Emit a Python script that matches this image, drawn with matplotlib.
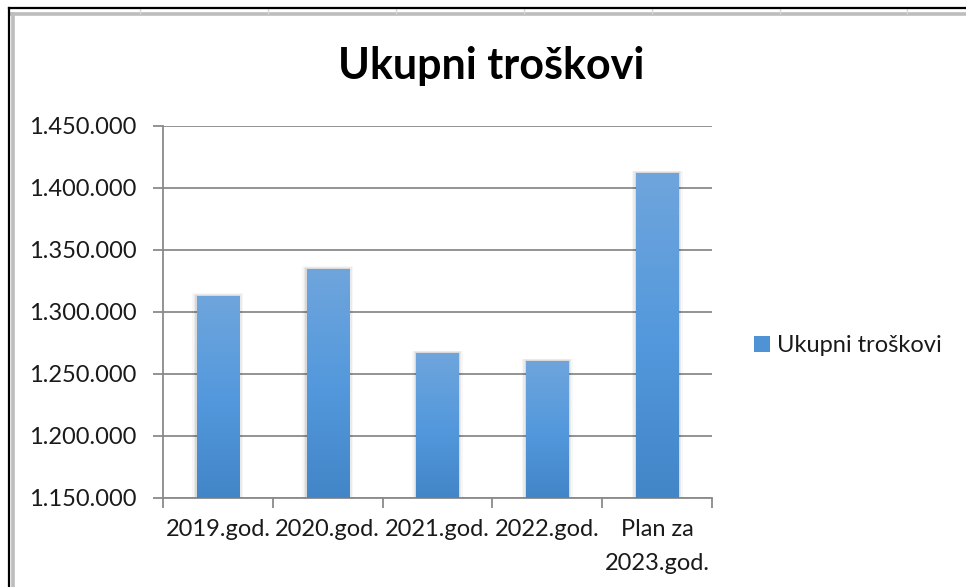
import matplotlib
matplotlib.use("Agg")
import matplotlib.pyplot as plt
import numpy as np
from matplotlib.colors import LinearSegmentedColormap
from matplotlib.lines import Line2D
from matplotlib.patches import Patch, Rectangle
from matplotlib.ticker import FuncFormatter, MultipleLocator

CATEGORIES = ["2019.god.", "2020.god.", "2021.god.", "2022.god.", "Plan za\n2023.god."]
TOTAL_COSTS = [1313000, 1334700, 1266900, 1260500, 1412100]
SERIES_NAME = "Ukupni troškovi"
TITLE = "Ukupni troškovi"

W, H = 966, 587
BAR_CMAP = LinearSegmentedColormap.from_list(
    "excel_blue", ["#4286c8", "#5499dd", "#6fa5dc"]
)
GRID = "#8a8a8a"
TEXT = "#1a1a1a"
LABEL_SIZE = 17

plt.rcParams["font.family"] = ["Lato", "DejaVu Sans"]

fig = plt.figure(figsize=(W / 100, H / 100), dpi=100)
ax = fig.add_axes([163 / W, 1 - 498 / H, (712 - 163) / W, (498 - 126) / H])

x = np.arange(len(CATEGORIES))
width = 0.385
bars = ax.bar(x, TOTAL_COSTS, width=width, color="none", edgecolor="none",
              zorder=3)

ymin, ymax = 1150000, 1450000

# gradient fill and soft shadow for every bar
grad = np.linspace(0, 1, 256).reshape(-1, 1)
for bar in bars:
    x0 = bar.get_x()
    x1 = x0 + bar.get_width()
    top = bar.get_height()
    for k, a in ((0.08, 0.03), (0.05, 0.05), (0.025, 0.07)):
        ax.add_patch(Rectangle((x0 - k * 0.5, ymin), (x1 - x0) + k,
                               top - ymin + k * 25000,
                               facecolor="#000000", alpha=a, edgecolor="none",
                               zorder=2.5))
    im = ax.imshow(grad, cmap=BAR_CMAP, aspect="auto", origin="lower",
                   extent=(x0, x1, ymin, top), zorder=3, interpolation="bilinear")
    clip = Rectangle((x0, ymin), x1 - x0, top - ymin, transform=ax.transData)
    im.set_clip_path(clip)
ax.set_xlim(-0.5, len(CATEGORIES) - 0.5)
ax.set_ylim(ymin, ymax)

ax.yaxis.set_major_locator(MultipleLocator(50000))
ax.yaxis.set_major_formatter(
    FuncFormatter(lambda v, _: f"{int(round(v)):,}".replace(",", "."))
)
ax.grid(axis="y", color=GRID, linewidth=1.3, zorder=1)
ax.set_axisbelow(True)

ax.set_xticks(x)
ax.set_xticklabels(CATEGORIES, linespacing=1.75)
ax.set_xticks(np.arange(-0.5, len(CATEGORIES)), minor=True)
ax.tick_params(axis="x", which="major", length=0, pad=15,
               labelsize=LABEL_SIZE, labelcolor=TEXT)
ax.tick_params(axis="x", which="minor", length=7, width=1.3, color=GRID)
ax.tick_params(axis="y", length=7, width=1.3, color=GRID, pad=12,
               labelsize=LABEL_SIZE, labelcolor=TEXT)

for side in ("top", "right"):
    ax.spines[side].set_visible(False)
for side in ("left", "bottom"):
    ax.spines[side].set_color(GRID)
    ax.spines[side].set_linewidth(1.3)

fig.text(491 / W, 1 - 66 / H, TITLE, ha="center", va="center",
         fontsize=31, fontweight="bold", color="#000000")

handle = Patch(facecolor="#4f93d4", edgecolor="none")
fig.legend([handle], [SERIES_NAME], loc="center left",
           bbox_to_anchor=(733 / W, 1 - 346 / H), frameon=False,
           fontsize=LABEL_SIZE, handlelength=0.65, handleheight=0.65,
           handletextpad=0.3, labelcolor=TEXT)


# surrounding worksheet frame
def px_line(xs, ys, color, lw):
    fig.add_artist(Line2D([v / W for v in xs], [1 - v / H for v in ys],
                          color=color, linewidth=lw, transform=fig.transFigure))


px_line([11, W], [14, 14], "#bdbdbd", 2.6)
px_line([13, 13], [14, H], "#bdbdbd", 2.6)
for cx in (140, 268, 396, 524, 652, 780, 907):
    px_line([cx, cx], [9, 13], "#d8d8d8", 1.0)
px_line([9, W], [8, 8], "#000000", 1.6)
px_line([9, 9], [8, H], "#000000", 1.6)

fig.savefig("out.png", dpi=100)
